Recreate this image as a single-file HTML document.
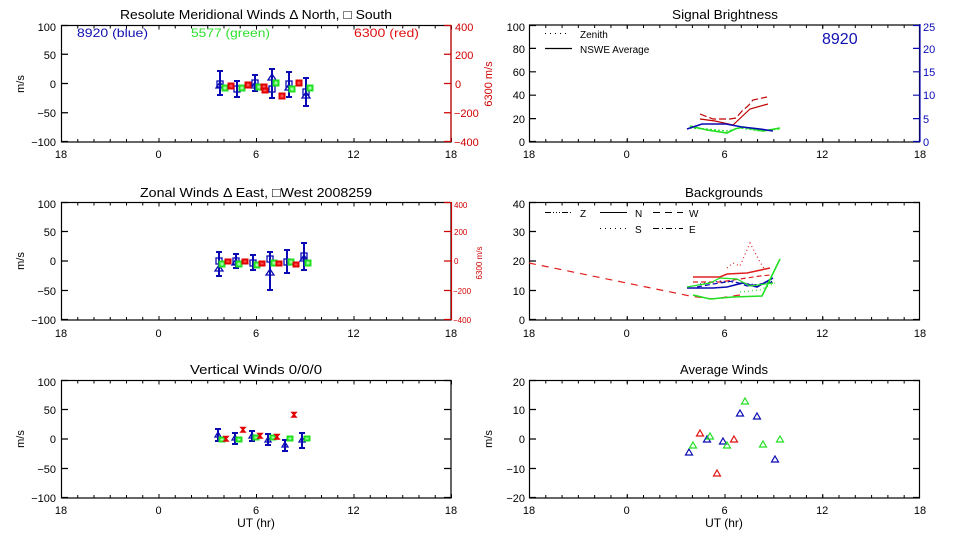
<!DOCTYPE html>
<html><head><meta charset="utf-8"><style>
html,body{margin:0;padding:0;background:#fff;}
svg{display:block;}
text{font-family:"Liberation Sans",sans-serif;}
</style></head><body>
<svg width="960" height="540" viewBox="0 0 960 540" xmlns="http://www.w3.org/2000/svg">
<rect width="960" height="540" fill="#fff"/>

<!-- ================= TOP LEFT ================= -->
<text x="256" y="19" font-size="13" text-anchor="middle" textLength="272" lengthAdjust="spacingAndGlyphs">Resolute Meridional Winds Δ North, □ South</text>
<rect x="61.5" y="25.5" width="389.5" height="116.5" fill="none" stroke="#000" stroke-width="1.2"/>
<g stroke="#000">
<line x1="61" y1="140.5" x2="452" y2="140.5" stroke-width="3" stroke-dasharray="1 15.25"/>
<line x1="61" y1="27" x2="452" y2="27" stroke-width="3" stroke-dasharray="1 15.25"/>
<line x1="61" y1="140" x2="452" y2="140" stroke-width="4" stroke-dasharray="1 96.5"/>
<line x1="61" y1="27.5" x2="452" y2="27.5" stroke-width="4" stroke-dasharray="1 96.5"/>
<path d="M61,25.5h7M61,54.25h7M61,83.5h7M61,112.75h7M61,141.5h7" stroke-width="1.2"/>
</g>
<g stroke="#d00000" stroke-width="1.2"><path d="M451,25V142M444,25.5h7M444,54.25h7M444,83.5h7M444,112.75h7M444,141.5h7"/></g>
<g font-size="11" text-anchor="end">
<text x="56" y="31">100</text><text x="56" y="59">50</text><text x="56" y="88">0</text><text x="56" y="117">−50</text><text x="56" y="146">−100</text>
</g>
<g font-size="11" fill="#d00000">
<text x="455" y="31">400</text><text x="455" y="59">200</text><text x="455" y="88">0</text><text x="454" y="117">−200</text><text x="454" y="146">−400</text>
</g>
<text transform="translate(492,84) rotate(-90)" font-size="11" fill="#d00000" text-anchor="middle">6300 m/s</text>
<text transform="translate(24,84) rotate(-90)" font-size="11" text-anchor="middle">m/s</text>
<g font-size="11" text-anchor="middle">
<text x="61" y="158">18</text><text x="158.5" y="158">0</text><text x="256" y="158">6</text><text x="353.5" y="158">12</text><text x="451" y="158">18</text>
</g>
<text x="77" y="37" font-size="12" fill="#1010b0" textLength="71" lengthAdjust="spacingAndGlyphs">8920 (blue)</text>
<text x="191" y="37" font-size="12" fill="#30e030" textLength="79" lengthAdjust="spacingAndGlyphs">5577 (green)</text>
<text x="354" y="37" font-size="12" fill="#e01010" textLength="65" lengthAdjust="spacingAndGlyphs">6300 (red)</text>
<!-- data -->
<g stroke="#0a0ab4" stroke-width="2" fill="none">
<path d="M220,71V95M217,71h6M217,95h6 M237,81V97M234,81h6M234,97h6 M255,75V91M252,75h6M252,91h6 M272,69V98M269,69h6M269,98h6 M289,72V97M286,72h6M286,97h6 M306,78V106M303,78h6M303,106h6"/>
</g>
<g stroke="#0a0ab4" stroke-width="1.3" fill="none">
<rect x="217" y="81" width="6" height="6"/><path d="M220,82l4,6h-8z"/>
<rect x="234" y="86" width="6" height="6"/>
<rect x="252" y="80" width="6" height="6"/><path d="M255,82l4,6h-8z"/>
<rect x="269" y="86" width="6" height="6"/><path d="M272,74l4,6h-8z"/>
<rect x="286" y="81" width="6" height="6"/><path d="M289,84l4,6h-8z"/>
<rect x="303" y="89" width="6" height="6"/><path d="M306,92l4,6h-8z"/>
</g>
<g stroke="#20e020" stroke-width="2" fill="#a0ffa0">
<rect x="222.5" y="85.5" width="5" height="5"/><rect x="239.5" y="85.5" width="5" height="5"/><rect x="256.5" y="84.5" width="5" height="5"/><rect x="273.5" y="80.5" width="5" height="5"/><rect x="289.5" y="86.5" width="5" height="5"/><rect x="307.5" y="85.5" width="5" height="5"/>
</g>
<g stroke="#e00000" stroke-width="2" fill="#ff5050">
<rect x="228.5" y="83.5" width="5" height="5"/><rect x="245.5" y="82.5" width="5" height="5"/><rect x="261.5" y="84.5" width="5" height="5"/><rect x="262.5" y="88.5" width="5" height="4"/><rect x="279.5" y="93.5" width="5" height="5"/><rect x="296.5" y="80.5" width="5" height="5"/>
</g>

<!-- ================= MIDDLE LEFT ================= -->
<text x="256" y="197" font-size="13" text-anchor="middle" textLength="232" lengthAdjust="spacingAndGlyphs">Zonal Winds Δ East, □West 2008259</text>
<rect x="61.5" y="202.5" width="389.5" height="117.5" fill="none" stroke="#000" stroke-width="1.2"/>
<g stroke="#000">
<line x1="61" y1="318.5" x2="452" y2="318.5" stroke-width="3" stroke-dasharray="1 15.25"/>
<line x1="61" y1="204" x2="452" y2="204" stroke-width="3" stroke-dasharray="1 15.25"/>
<line x1="61" y1="318" x2="452" y2="318" stroke-width="4" stroke-dasharray="1 96.5"/>
<line x1="61" y1="204.5" x2="452" y2="204.5" stroke-width="4" stroke-dasharray="1 96.5"/>
<path d="M61,202.5h7M61,231.5h7M61,261h7M61,290.5h7M61,319.5h7" stroke-width="1.2"/>
</g>
<g stroke="#d00000" stroke-width="1.2"><path d="M451.5,202V320M444,202.5h7M444,231.5h7M444,261h7M444,290.5h7M444,319.5h7"/></g>
<g font-size="11" text-anchor="end">
<text x="56" y="208">100</text><text x="56" y="236">50</text><text x="56" y="265">0</text><text x="56" y="295">−50</text><text x="56" y="324">−100</text>
</g>
<g font-size="8" fill="#d00000">
<text x="454" y="208">400</text><text x="454" y="235">200</text><text x="454" y="264">0</text><text x="453" y="294">−200</text><text x="453" y="323">−400</text>
</g>
<text transform="translate(482,263) rotate(-90)" font-size="8" fill="#d00000" text-anchor="middle">6300 m/s</text>
<text transform="translate(24,261) rotate(-90)" font-size="11" text-anchor="middle">m/s</text>
<g font-size="11" text-anchor="middle">
<text x="61" y="337">18</text><text x="158.5" y="337">0</text><text x="256" y="337">6</text><text x="353.5" y="337">12</text><text x="451" y="337">18</text>
</g>
<g stroke="#0a0ab4" stroke-width="2" fill="none">
<path d="M219,252V276M216,252h6M216,276h6 M236,254V268M233,254h6M233,268h6 M253,255V270M250,255h6M250,270h6 M270,252V290M267,252h6M267,290h6 M287,250V273M284,250h6M284,273h6 M304,243V270M301,243h6M301,270h6"/>
</g>
<g stroke="#0a0ab4" stroke-width="1.3" fill="none">
<rect x="216" y="258" width="6" height="6"/><path d="M219,265l4,6h-8z"/>
<rect x="233" y="258" width="6" height="6"/><path d="M236,259l4,6h-8z"/>
<rect x="250" y="260" width="6" height="6"/>
<rect x="267" y="256" width="6" height="6"/><path d="M270,269l4,6h-8z"/>
<rect x="284" y="259" width="6" height="6"/>
<rect x="301" y="253" width="6" height="6"/><path d="M304,255l4,6h-8z"/>
</g>
<g stroke="#20e020" stroke-width="2" fill="#a0ffa0">
<rect x="219.5" y="261.5" width="5" height="5"/><rect x="236.5" y="261.5" width="5" height="5"/><rect x="254.5" y="262.5" width="5" height="5"/><rect x="271.5" y="260.5" width="5" height="5"/><rect x="288.5" y="259.5" width="5" height="5"/><rect x="305.5" y="260.5" width="5" height="5"/>
</g>
<g stroke="#e00000" stroke-width="2" fill="#ff5050">
<rect x="225.5" y="259.5" width="5" height="4"/><rect x="242.5" y="259.5" width="5" height="4"/><rect x="259.5" y="261.5" width="5" height="4"/><rect x="276.5" y="261.5" width="5" height="4"/><rect x="293.5" y="262.5" width="5" height="4"/>
</g>

<!-- ================= BOTTOM LEFT ================= -->
<text x="256" y="374" font-size="13" text-anchor="middle" textLength="132" lengthAdjust="spacingAndGlyphs">Vertical Winds 0/0/0</text>
<rect x="61.5" y="380.5" width="389.5" height="117.5" fill="none" stroke="#000" stroke-width="1.2"/>
<g stroke="#000">
<line x1="61" y1="496.5" x2="452" y2="496.5" stroke-width="3" stroke-dasharray="1 15.25"/>
<line x1="61" y1="382" x2="452" y2="382" stroke-width="3" stroke-dasharray="1 15.25"/>
<line x1="61" y1="496" x2="452" y2="496" stroke-width="4" stroke-dasharray="1 96.5"/>
<line x1="61" y1="382.5" x2="452" y2="382.5" stroke-width="4" stroke-dasharray="1 96.5"/>
<path d="M61,380.5h7M61,409.5h7M61,439h7M61,468.5h7M61,497.5h7 M444,380.5h7M444,409.5h7M444,439h7M444,468.5h7M444,497.5h7" stroke-width="1.2"/>
</g>
<g font-size="11" text-anchor="end">
<text x="56" y="386">100</text><text x="56" y="414">50</text><text x="56" y="443">0</text><text x="56" y="473">−50</text><text x="56" y="502">−100</text>
</g>
<text transform="translate(24,439) rotate(-90)" font-size="11" text-anchor="middle">m/s</text>
<g font-size="11" text-anchor="middle">
<text x="61" y="514">18</text><text x="158.5" y="514">0</text><text x="256" y="514">6</text><text x="353.5" y="514">12</text><text x="451" y="514">18</text>
<text x="256" y="527" font-size="12">UT (hr)</text>
</g>
<g stroke="#0a0ab4" stroke-width="2" fill="none">
<path d="M218,429V441M215,429h6M215,441h6 M235,433V444M232,433h6M232,444h6 M252,431V441M249,431h6M249,441h6 M268,434V445M265,434h6M265,445h6 M285,440V451M282,440h6M282,451h6 M302,433V448M299,433h6M299,448h6"/>
</g>
<g stroke="#0a0ab4" stroke-width="1.3" fill="none">
<path d="M218,432l3,5h-6z"/><path d="M235,435l3,5h-6z"/><path d="M252,433l3,5h-6z"/><path d="M268,437l3,5h-6z"/><path d="M285,442l3,5h-6z"/><path d="M302,437l3,5h-6z"/>
</g>
<g stroke="#20e020" stroke-width="2" fill="#a0ffa0">
<rect x="219.5" y="437.5" width="5" height="4"/><rect x="236.5" y="437.5" width="5" height="4"/><rect x="253.5" y="435.5" width="5" height="4"/><rect x="270.5" y="435.5" width="5" height="4"/><rect x="287.5" y="436.5" width="5" height="4"/><rect x="304.5" y="436.5" width="5" height="4"/>
</g>
<g stroke="#e00000" stroke-width="1.5" fill="#ff5050">
<path d="M224,436.5h4l-4,4.5h4z"/><path d="M241,427.5h4l-4,4.5h4z"/><path d="M258,433.5h4l-4,4.5h4z"/><path d="M275,434.5h4l-4,4.5h4z"/><path d="M292,412.5h4l-4,4.5h4z"/>
</g>

<!-- ================= TOP RIGHT ================= -->
<text x="725" y="19" font-size="13" text-anchor="middle" textLength="106" lengthAdjust="spacingAndGlyphs">Signal Brightness</text>
<rect x="529.5" y="25" width="390" height="117" fill="none" stroke="#000" stroke-width="1.2"/>
<g stroke="#000">
<line x1="529" y1="140.5" x2="920" y2="140.5" stroke-width="3" stroke-dasharray="1 15.29"/>
<line x1="529" y1="26.5" x2="920" y2="26.5" stroke-width="3" stroke-dasharray="1 15.29"/>
<line x1="529" y1="140" x2="920" y2="140" stroke-width="4" stroke-dasharray="1 96.75"/>
<line x1="529" y1="27" x2="920" y2="27" stroke-width="4" stroke-dasharray="1 96.75"/>
<path d="M529,25.5h7M529,48.4h7M529,71.8h7M529,95.2h7M529,118.6h7M529,141.5h7" stroke-width="1.2"/>
</g>
<g stroke="#0a0ab4" stroke-width="1.2"><path d="M920,24V142M913,25.5h7M913,48.4h7M913,71.8h7M913,95.2h7M913,118.6h7M913,141.5h7"/></g>
<g font-size="11" text-anchor="end">
<text x="525" y="31">100</text><text x="525" y="53">80</text><text x="525" y="76">60</text><text x="525" y="99">40</text><text x="525" y="123">20</text><text x="525" y="146">0</text>
</g>
<g font-size="11" fill="#0a0ab4">
<text x="923" y="31">25</text><text x="923" y="53">20</text><text x="923" y="76">15</text><text x="923" y="99">10</text><text x="923" y="123">5</text><text x="923" y="146">0</text>
</g>
<g font-size="11" text-anchor="middle">
<text x="529" y="158">18</text><text x="626.7" y="158">0</text><text x="724.5" y="158">6</text><text x="822.2" y="158">12</text><text x="920" y="158">18</text>
</g>
<line x1="545" y1="33.5" x2="570" y2="33.5" stroke="#000" stroke-width="1" stroke-dasharray="1 4"/>
<text x="580" y="38" font-size="10">Zenith</text>
<line x1="545" y1="48.5" x2="572" y2="48.5" stroke="#000" stroke-width="1.2"/>
<text x="580" y="53" font-size="10">NSWE Average</text>
<text x="822" y="44" font-size="16" fill="#1010b0">8920</text>
<g fill="none" stroke-width="1.2">
<polyline points="700,114 713,119 730,119 736,118 742,111 748,106 753,100 767,97" stroke="#c00000" stroke-dasharray="7 3"/>
<polyline points="700,119 715,121 733,125 750,109 768,104" stroke="#c00000"/>
<polyline points="690,128 707,129 727,131 740,128 760,131 780,129" stroke="#20e020" stroke-dasharray="2 2"/>
<polyline points="690,126 707,130 727,133 735,129 743,127 763,131 780,128" stroke="#20e020" stroke-width="1.6"/>
<polyline points="687,129 702,124 726,124 742,127 760,129 773,131" stroke="#0a0ab4" stroke-width="1.6"/>
</g>

<!-- ================= MIDDLE RIGHT ================= -->
<text x="724" y="197" font-size="13" text-anchor="middle" textLength="78" lengthAdjust="spacingAndGlyphs">Backgrounds</text>
<rect x="529.5" y="202.5" width="390" height="117.5" fill="none" stroke="#000" stroke-width="1.2"/>
<g stroke="#000">
<line x1="529" y1="318.5" x2="920" y2="318.5" stroke-width="3" stroke-dasharray="1 15.29"/>
<line x1="529" y1="204" x2="920" y2="204" stroke-width="3" stroke-dasharray="1 15.29"/>
<line x1="529" y1="318" x2="920" y2="318" stroke-width="4" stroke-dasharray="1 96.75"/>
<line x1="529" y1="204.5" x2="920" y2="204.5" stroke-width="4" stroke-dasharray="1 96.75"/>
<path d="M529,202.5h7M529,231.5h7M529,261h7M529,290.5h7M529,319.5h7 M913,202.5h7M913,231.5h7M913,261h7M913,290.5h7M913,319.5h7" stroke-width="1.2"/>
</g>
<g font-size="11" text-anchor="end">
<text x="525" y="208">40</text><text x="525" y="236">30</text><text x="525" y="265">20</text><text x="525" y="295">10</text><text x="525" y="324">0</text>
</g>
<g font-size="11" text-anchor="middle">
<text x="529" y="337">18</text><text x="626.7" y="337">0</text><text x="724.5" y="337">6</text><text x="822.2" y="337">12</text><text x="920" y="337">18</text>
</g>
<g stroke="#000" stroke-width="1" fill="none">
<line x1="545" y1="212.5" x2="572" y2="212.5" stroke-dasharray="6 2 1 2 1 2 1 2"/>
<line x1="600" y1="212.5" x2="627" y2="212.5"/>
<line x1="653" y1="212.5" x2="683" y2="212.5" stroke-dasharray="7 5"/>
<line x1="600" y1="228.5" x2="627" y2="228.5" stroke-dasharray="1 4"/>
<line x1="653" y1="228.5" x2="683" y2="228.5" stroke-dasharray="6 3 1 3"/>
</g>
<g font-size="10">
<text x="580" y="217">Z</text><text x="635" y="217">N</text><text x="689" y="217">W</text>
<text x="635" y="233">S</text><text x="689" y="233">E</text>
</g>
<g fill="none" stroke-width="1.2">
<polyline points="529,263 690,296 713,299 740,295" stroke="#e02020" stroke-dasharray="7 6"/>
<polyline points="693,282 720,282 740,279 760,276 770,275" stroke="#e02020" stroke-dasharray="5 3"/>
<polyline points="693,277 720,277 727,274 747,273 770,268" stroke="#e02020" stroke-width="1.6"/>
<polyline points="727,268 733,263 740,266 750,243 760,262 765,270" stroke="#e02020" stroke-dasharray="1 3"/>
<polyline points="687,288 713,288 727,287 743,283 757,287 773,278" stroke="#0a0ab4" stroke-width="1.6"/>
<polyline points="697,287 713,284 733,281 747,286 773,282" stroke="#0a0ab4" stroke-dasharray="5 3"/>
<polyline points="700,284 720,281 740,283 760,285 773,281" stroke="#0a0ab4" stroke-dasharray="1 3"/>
<polyline points="693,295 710,299 733,297 762,296 780,259" stroke="#20e020" stroke-width="1.6"/>
<polyline points="687,287 710,283 720,278 737,279 750,286 773,283" stroke="#20e020"/>
<polyline points="740,292 760,290 775,283" stroke="#20e020" stroke-dasharray="1 3"/>
</g>

<!-- ================= BOTTOM RIGHT ================= -->
<text x="724" y="374" font-size="13" text-anchor="middle" textLength="88" lengthAdjust="spacingAndGlyphs">Average Winds</text>
<rect x="529.5" y="380.5" width="390" height="117.5" fill="none" stroke="#000" stroke-width="1.2"/>
<g stroke="#000">
<line x1="529" y1="496.5" x2="920" y2="496.5" stroke-width="3" stroke-dasharray="1 15.29"/>
<line x1="529" y1="382" x2="920" y2="382" stroke-width="3" stroke-dasharray="1 15.29"/>
<line x1="529" y1="496" x2="920" y2="496" stroke-width="4" stroke-dasharray="1 96.75"/>
<line x1="529" y1="382.5" x2="920" y2="382.5" stroke-width="4" stroke-dasharray="1 96.75"/>
<path d="M529,380.5h7M529,409.5h7M529,439h7M529,468.5h7M529,497.5h7 M913,380.5h7M913,409.5h7M913,439h7M913,468.5h7M913,497.5h7" stroke-width="1.2"/>
</g>
<g font-size="11" text-anchor="end">
<text x="525" y="386">20</text><text x="525" y="414">10</text><text x="525" y="443">0</text><text x="525" y="473">−10</text><text x="525" y="502">−20</text>
</g>
<text transform="translate(492,439) rotate(-90)" font-size="11" text-anchor="middle">m/s</text>
<g font-size="11" text-anchor="middle">
<text x="529" y="514">18</text><text x="626.7" y="514">0</text><text x="724.5" y="514">6</text><text x="822.2" y="514">12</text><text x="920" y="514">18</text>
<text x="724" y="527" font-size="12">UT (hr)</text>
</g>
<g fill="none" stroke-width="1.2">
<g stroke="#0a0ab4">
<path d="M689,449l3.5,6h-7z"/><path d="M707,436l3.5,6h-7z"/><path d="M723,438l3.5,6h-7z"/><path d="M740,410l3.5,6h-7z"/><path d="M757,413l3.5,6h-7z"/><path d="M775,456l3.5,6h-7z"/>
</g>
<g stroke="#20e020">
<path d="M693,442l3.5,6h-7z"/><path d="M710,433l3.5,6h-7z"/><path d="M727,442l3.5,6h-7z"/><path d="M745,398l3.5,6h-7z"/><path d="M763,441l3.5,6h-7z"/><path d="M780,436l3.5,6h-7z"/>
</g>
<g stroke="#e01010">
<path d="M700,430l3.5,6h-7z"/><path d="M717,470l3.5,6h-7z"/><path d="M734,436l3.5,6h-7z"/>
</g>
</g>
</svg>
</body></html>
